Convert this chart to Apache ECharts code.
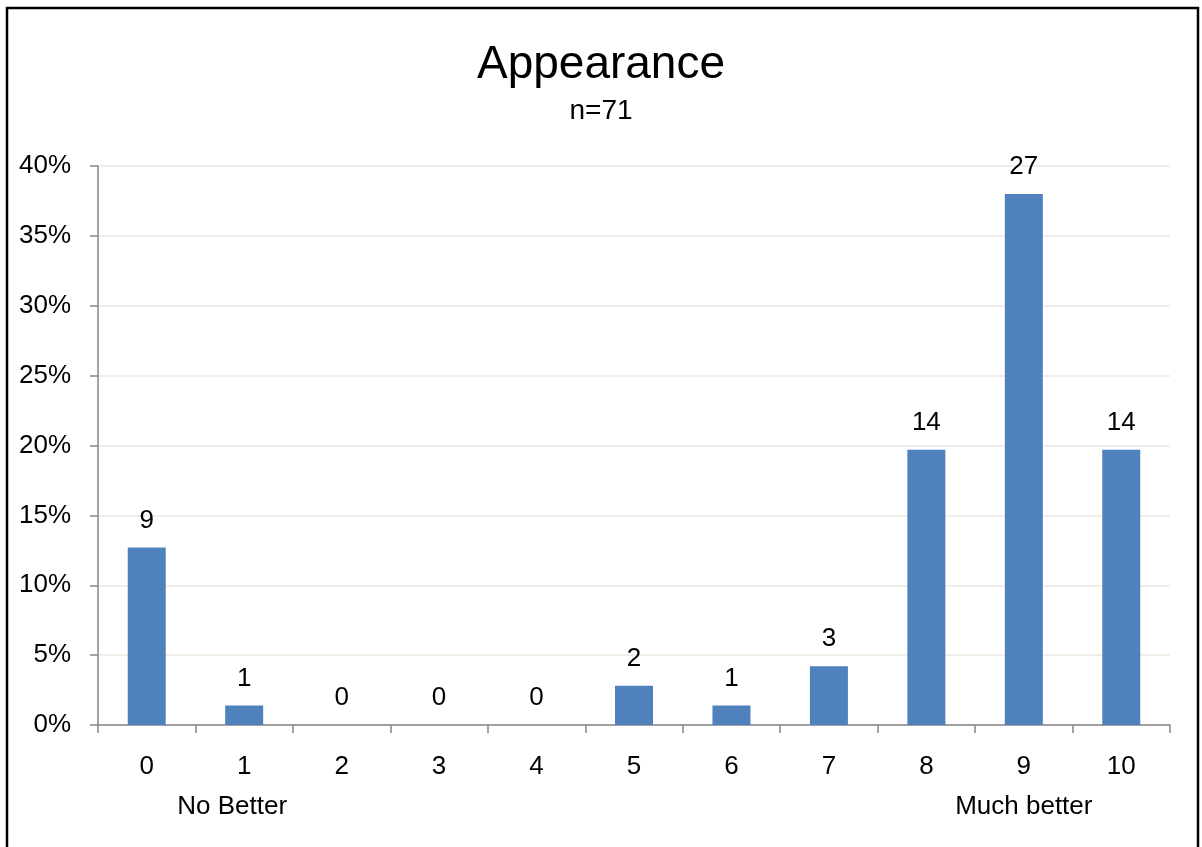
<!DOCTYPE html>
<html>
<head>
<meta charset="utf-8">
<script src="https://cdn.jsdelivr.net/npm/echarts@6/dist/echarts.min.js"></script>
<style>
  html, body { margin: 0; padding: 0; background: #fff; }
  #chart { width: 1202px; height: 847px; }
</style>
</head>
<body>
<div id="chart"></div>
<script>
// 数据
const categories = ['0', '1', '2', '3', '4', '5', '6', '7', '8', '9', '10']
const subLabels = ['', 'No Better', '', '', '', '', '', '', '', 'Much better', '']
const percents = [12.7, 1.4, 0, 0, 0, 2.8, 1.4, 4.2, 19.7, 38.0, 19.7]
const counts = [9, 1, 0, 0, 0, 2, 1, 3, 14, 27, 14]
const yTicks = [0, 5, 10, 15, 20, 25, 30, 35, 40]

const font = '"Liberation Sans", Arial, sans-serif'
const myChart = echarts.init(document.getElementById('chart'))

const option = {
  backgroundColor: '#fff',
  textStyle: { fontFamily: font },
  title: {
    text: 'Appearance',
    subtext: 'n=71',
    left: 'center',
    top: 37,
    itemGap: 9,
    textStyle: { fontFamily: font, fontSize: 46, fontWeight: 'normal', color: '#000' },
    subtextStyle: { fontFamily: font, fontSize: 28, color: '#000' }
  },
  graphic: [{
    type: 'rect',
    shape: { x: 7, y: 8, width: 1191, height: 900 },
    style: { fill: 'none', stroke: '#000', lineWidth: 2.5 },
    silent: true
  }],
  grid: { left: 98, right: 32, top: 166, bottom: 122 },
  xAxis: {
    type: 'category',
    data: categories,
    boundaryGap: true,
    axisLine: { lineStyle: { color: '#868686', width: 1.5 } },
    axisTick: { show: true, interval: 0, length: 8, lineStyle: { color: '#868686', width: 1.5 } },
    axisLabel: {
      interval: 0,
      margin: 22,
      color: '#000',
      fontFamily: font,
      fontSize: 26,
      lineHeight: 40,
      formatter: (val, idx) => {
        const sub = subLabels[idx]
        if (!sub) return val
        return val + '\n{sub' + idx + '|' + sub + '}'
      },
      rich: {
        sub1: { fontFamily: font, fontSize: 26, color: '#000', padding: [0, 24, 0, 0], lineHeight: 40 },
        sub9: { fontFamily: font, fontSize: 26, color: '#000', lineHeight: 40 }
      }
    }
  },
  yAxis: {
    type: 'value',
    min: 0,
    max: 40,
    interval: 5,
    axisLine: { show: true, lineStyle: { color: '#868686', width: 1.5 } },
    axisTick: { show: true, length: 8, lineStyle: { color: '#868686', width: 1.5 } },
    splitLine: { lineStyle: { color: '#ebeadf', width: 1.5 } },
    axisLabel: {
      margin: 27,
      color: '#000',
      fontFamily: font,
      fontSize: 26,
      formatter: (v) => yTicks.includes(v) ? v + '%' : ''
    }
  },
  series: [{
    type: 'bar',
    data: percents,
    barWidth: '39%',
    itemStyle: { color: '#4f81bd' },
    label: {
      show: true,
      position: 'top',
      distance: 14,
      color: '#000',
      fontFamily: font,
      fontSize: 26,
      formatter: (p) => counts[p.dataIndex]
    }
  }]
}

myChart.setOption(option)
window.addEventListener('resize', myChart.resize)
</script>
</body>
</html>
